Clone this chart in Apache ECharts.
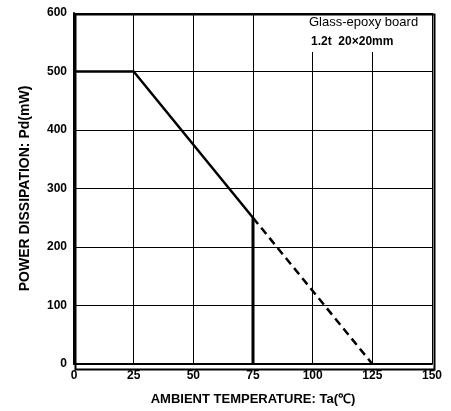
<!DOCTYPE html>
<html><head><meta charset="utf-8">
<script src="https://cdn.jsdelivr.net/npm/echarts@6/dist/echarts.min.js"></script>
<style>html,body{margin:0;padding:0;background:#fff}#c{width:451px;height:411px}</style>
</head><body><div id="c"></div>
<script>
const xTicks = [0, 25, 50, 75, 100, 125, 150];
const yTicks = [0, 100, 200, 300, 400, 500, 600];
const solidX = [0, 25, 75];
const solidY = [500, 500, 250];
const dashX = [75, 125];
const dashY = [250, 0];
const vertX = [75, 75];
const vertY = [250, 0];
const noteLines = ["Glass-epoxy board", "1.2t  20×20mm"];

const chart = echarts.init(document.getElementById('c'));
const F = 'Liberation Sans, Arial, sans-serif';
const zip = (a, b) => a.map((v, i) => [v, b[i]]);
chart.setOption({
  animation: false,
  grid: {left: 74, right: 19, top: 13, bottom: 44},
  xAxis: {
    type: 'value', min: 0, max: 150, interval: 25,
    axisLine: {lineStyle: {color: '#000', width: 2}},
    axisTick: {show: false},
    axisLabel: {color: '#000', fontFamily: F, fontWeight: 'bold', fontSize: 12, margin: 6},
    splitLine: {show: true, lineStyle: {color: '#000', width: 1}},
    name: 'AMBIENT TEMPERATURE: Ta(℃)', nameLocation: 'middle', nameGap: 29,
    nameTextStyle: {color: '#000', fontFamily: F, fontSize: 13, fontWeight: 'bold'}
  },
  yAxis: {
    type: 'value', min: 0, max: 600, interval: 100,
    axisLine: {show: true, lineStyle: {color: '#000', width: 2}},
    axisTick: {show: false},
    axisLabel: {color: '#000', fontFamily: F, fontWeight: 'bold', fontSize: 12, margin: 7},
    splitLine: {show: true, lineStyle: {color: '#000', width: 1}},
    name: 'POWER DISSIPATION: Pd(mW)', nameLocation: 'middle', nameGap: 42,
    nameTextStyle: {color: '#000', fontFamily: F, fontSize: 14, fontWeight: 'bold'}
  },
  graphic: [
    {type: 'rect', left: 304, top: 15, z: 10, shape: {width: 126, height: 37}, style: {fill: '#fff'}, silent: true},
    {type: 'rect', left: 73, top: 12, z: 11, shape: {width: 359, height: 355}, style: {fill: 'none', stroke: '#000', lineWidth: 2}, silent: true},
    {type: 'text', left: 309, top: 16, z: 12, style: {text: noteLines[0], font: '13px ' + F, fill: '#000'}},
    {type: 'text', left: 311, top: 36, z: 12, style: {text: noteLines[1], font: 'bold 12px ' + F, fill: '#000'}}
  ],
  series: [
    {type: 'line', data: zip(solidX, solidY), symbol: 'none', lineStyle: {color: '#000', width: 2.5}},
    {type: 'line', data: zip(dashX, dashY), symbol: 'none', lineStyle: {color: '#000', width: 2.5, type: [8, 5]}},
    {type: 'line', data: zip(vertX, vertY), symbol: 'none', lineStyle: {color: '#000', width: 3}}
  ]
});
</script></body></html>
